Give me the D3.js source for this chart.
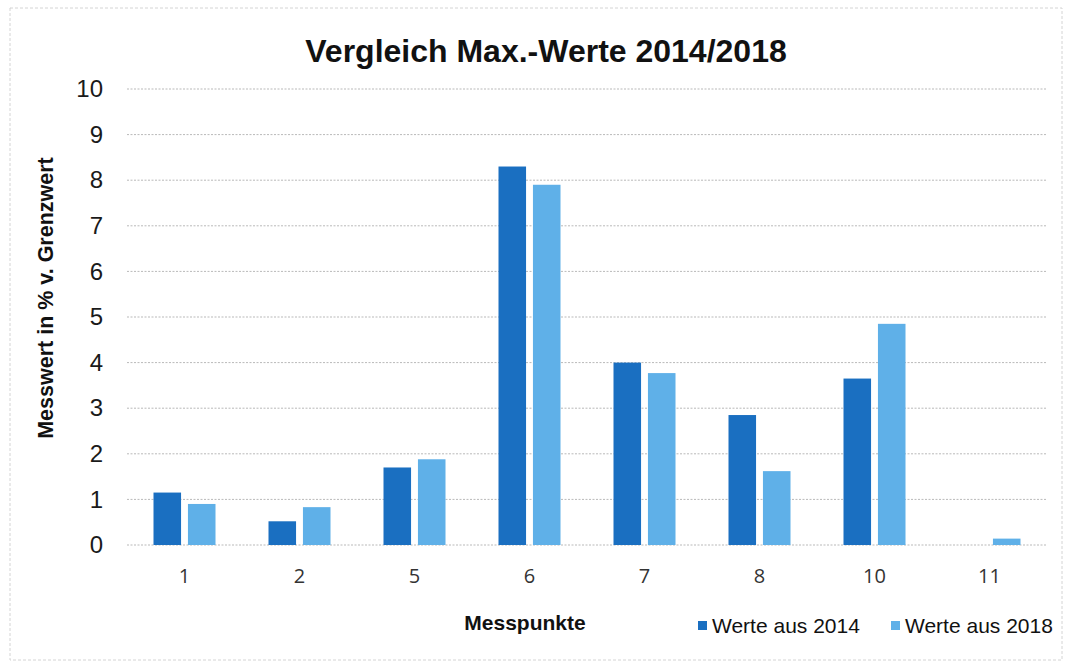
<!DOCTYPE html>
<html>
<head>
<meta charset="utf-8">
<script src="https://cdn.jsdelivr.net/npm/d3@7"></script>
<style>
  body { margin: 0; background: #fff; }
  text { font-family: "Liberation Sans", Arial, sans-serif; }
</style>
</head>
<body>
<div id="chart"></div>
<script>
const categories = ["1", "2", "5", "6", "7", "8", "10", "11"];
const werte2014 = [1.15, 0.52, 1.7, 8.3, 4.0, 2.85, 3.65, 0];
const werte2018 = [0.9, 0.83, 1.88, 7.9, 3.77, 1.62, 4.85, 0.14];
const series = ["Werte aus 2014", "Werte aus 2018"];
const yTicks = [0, 1, 2, 3, 4, 5, 6, 7, 8, 9, 10];

const width = 1072, height = 666;
const margin = { top: 89, right: 25, bottom: 121, left: 127 };
const colors = ["#1a6fc1", "#5fb0e8"];

const svg = d3.select("#chart").append("svg")
  .attr("width", width)
  .attr("height", height);

// faint outer frame of the scanned chart
svg.append("rect")
  .attr("x", 10).attr("y", 8)
  .attr("width", 1052).attr("height", 652)
  .attr("fill", "none")
  .attr("stroke", "#d4d4d4")
  .attr("stroke-width", 1)
  .attr("stroke-dasharray", "3,2");

const x = d3.scaleBand()
  .domain(categories)
  .range([margin.left, width - margin.right]);

const x1 = d3.scaleBand()
  .domain(series)
  .range([x.bandwidth() / 2 - 31, x.bandwidth() / 2 + 31])
  .paddingInner(0.2);

const y = d3.scaleLinear()
  .domain([0, 10])
  .range([height - margin.bottom, margin.top]);

// gridlines
svg.append("g")
  .selectAll("line")
  .data(yTicks)
  .enter()
  .append("line")
  .attr("x1", margin.left)
  .attr("x2", width - margin.right)
  .attr("y1", d => y(d))
  .attr("y2", d => y(d))
  .attr("stroke", "#b9b9b9")
  .attr("stroke-width", 1)
  .attr("stroke-dasharray", "2,1.5");

// y axis labels
const yAxis = svg.append("g")
  .attr("transform", "translate(" + (margin.left - 24) + ",0)")
  .call(d3.axisLeft(y).tickValues(yTicks).tickSize(0).tickPadding(0));
yAxis.select(".domain").remove();
yAxis.selectAll("text")
  .attr("font-size", 24)
  .attr("fill", "#1a1a1a")
  .style("font-family", "'Liberation Sans', Arial, sans-serif");

// x axis labels
const xAxis = svg.append("g")
  .attr("transform", "translate(0," + (height - margin.bottom) + ")")
  .call(d3.axisBottom(x).tickSize(0).tickPadding(24));
xAxis.select(".domain").remove();
xAxis.selectAll("text")
  .attr("font-size", 20)
  .attr("fill", "#333")
  .style("font-family", "'Open Sans', 'Liberation Sans', sans-serif");

// bars
const rows = categories.map((c, i) => ({ cat: c, vals: [werte2014[i], werte2018[i]] }));

svg.append("g")
  .selectAll("g")
  .data(rows)
  .enter()
  .append("g")
  .attr("transform", d => "translate(" + x(d.cat) + ",0)")
  .selectAll("rect")
  .data(d => d.vals.map((v, j) => ({ key: series[j], v: v, j: j })))
  .enter()
  .append("rect")
  .attr("x", d => x1(d.key))
  .attr("width", x1.bandwidth())
  .attr("y", d => y(d.v))
  .attr("height", d => y(0) - y(d.v))
  .attr("fill", d => colors[d.j]);

// title
svg.append("text")
  .attr("x", 546)
  .attr("y", 62)
  .attr("text-anchor", "middle")
  .attr("font-size", 32)
  .attr("font-weight", "bold")
  .attr("fill", "#111")
  .text("Vergleich Max.-Werte 2014/2018");

// y axis title
svg.append("text")
  .attr("transform", "translate(53,298) rotate(-90)")
  .attr("text-anchor", "middle")
  .attr("font-size", 21.5)
  .attr("font-weight", "bold")
  .attr("fill", "#111")
  .text("Messwert in % v. Grenzwert");

// x axis title
svg.append("text")
  .attr("x", 525)
  .attr("y", 630)
  .attr("text-anchor", "middle")
  .attr("font-size", 21)
  .attr("font-weight", "bold")
  .attr("fill", "#111")
  .text("Messpunkte");

// legend
const legendX = [698, 891];
const legend = svg.append("g")
  .selectAll("g")
  .data(series)
  .enter()
  .append("g")
  .attr("transform", (d, i) => "translate(" + legendX[i] + ",621)");

legend.append("rect")
  .attr("x", 0).attr("y", 0)
  .attr("width", 9).attr("height", 9)
  .attr("fill", (d, i) => colors[i]);

legend.append("text")
  .attr("x", 14)
  .attr("y", 12)
  .attr("font-size", 21)
  .attr("fill", "#111")
  .text(d => d);
</script>
</body>
</html>
